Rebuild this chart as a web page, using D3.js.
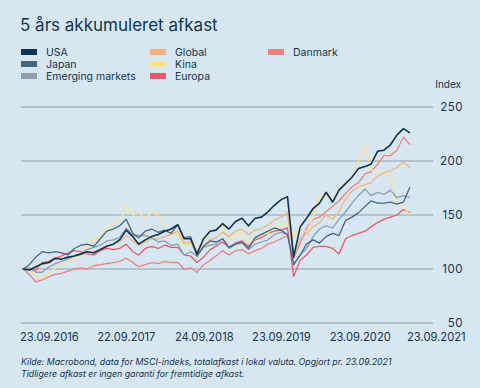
<!DOCTYPE html>
<meta charset="utf-8">
<style>
body { margin: 0; background: #d6e7f1; }
svg { display: block; font-family: Inter, "Open Sans", sans-serif; }
.grid line { stroke: #a7b7c3; stroke-width: 1.5px; }
.line { fill: none; stroke-width: 1.3px; stroke-linejoin: round; }
.lbl { fill: #15344f; }
</style>
<svg width="480" height="388"></svg>
<script src="https://d3js.org/d3.v7.min.js"></script>
<script>
var svg = d3.select("svg"),
    margin = {top: 107, right: 70, bottom: 65, left: 23},
    width = 410 - margin.left,
    height = 323 - margin.top,
    g = svg.append("g").attr("transform", "translate(" + margin.left + "," + margin.top + ")");

// monthly closes, 23.09.2016 .. 23.09.2021 (index 23.09.2016 = 100)
var names  = ["USA", "Japan", "Emerging markets", "Global", "Kina", "Europa", "Danmark"];
var colors = ["#0e3251", "#476781", "#8ba1b0", "#f7b27c", "#fde28a", "#e9596b", "#ef8181"];

var usa     = [100, 99, 102, 105, 106, 110, 109, 111, 112, 114, 116, 115, 118, 121, 123, 127, 136, 130, 123, 127, 130, 132, 135, 137, 141, 128, 128, 114, 128, 135, 136, 142, 137, 144, 147, 140, 147, 148, 153, 159, 164, 167, 111, 139, 147, 156, 161, 171, 162, 173, 179, 185, 193, 195, 197, 209, 210, 215, 224, 230, 226];
var japan   = [100, 104, 111, 116, 115, 116, 115, 113, 119, 122, 123, 121, 128, 135, 137, 140, 146, 133, 129, 135, 137, 134, 136, 133, 141, 129, 130, 112, 121, 126, 125, 128, 120, 123, 125, 119, 129, 132, 135, 138, 136, 132, 104, 113, 123, 127, 124, 130, 133, 131, 145, 148, 152, 158, 163, 161, 161, 162, 160, 162, 176];
var em      = [100, 101, 97, 97, 102, 105, 107, 109, 112, 114, 118, 120, 122, 126, 127, 129, 138, 131, 131, 131, 129, 125, 126, 122, 123, 113, 116, 112, 120, 122, 123, 128, 119, 123, 124, 118, 123, 125, 127, 132, 134, 132, 104, 113, 119, 130, 137, 140, 138, 146, 153, 161, 168, 174, 168, 171, 169, 173, 166, 168, 166];
var global  = [100, 100, 101, 104, 106, 109, 110, 110, 112, 113, 115, 115, 118, 121, 123, 125, 131, 126, 122, 125, 128, 128, 130, 132, 135, 124, 125, 113, 122, 127, 129, 134, 130, 135, 137, 132, 136, 137, 141, 145, 148, 152, 110, 128, 133, 139, 143, 150, 146, 153, 165, 172, 176, 178, 180, 186, 189, 191, 194, 199, 194];
var kina    = [100, 99, 94, 91, 96, 101, 103, 106, 110, 114, 120, 127, 130, 137, 142, 143, 159, 150, 152, 147, 152, 150, 140, 134, 132, 121, 124, 120, 126, 134, 137, 140, 126, 132, 132, 125, 128, 132, 133, 140, 139, 143, 130, 137, 134, 148, 168, 167, 164, 175, 180, 183, 200, 215, 192, 190, 188, 186, 160, 158, 150];
var europa  = [100, 100, 99, 106, 107, 110, 112, 115, 117, 116, 114, 113, 117, 119, 118, 119, 123, 116, 113, 119, 121, 119, 122, 120, 120, 113, 112, 106, 111, 118, 121, 125, 120, 124, 126, 121, 127, 129, 133, 135, 136, 138, 93, 108, 113, 120, 121, 121, 119, 114, 128, 131, 133, 135, 139, 143, 146, 148, 150, 155, 152];
var danmark = [100, 95, 88, 90, 93, 95, 96, 98, 100, 101, 100, 103, 104, 105, 106, 107, 110, 106, 102, 104, 106, 105, 107, 106, 106, 100, 101, 97, 104, 108, 112, 117, 113, 117, 118, 114, 117, 119, 123, 125, 128, 131, 110, 124, 138, 146, 148, 153, 158, 163, 170, 176, 180, 188, 190, 197, 205, 205, 210, 222, 215];

var tickDates  = ["2016-09-23", "2017-09-22", "2018-09-24", "2019-09-23", "2020-09-23", "2021-09-23"];
var tickLabels = ["23.09.2016", "22.09.2017", "24.09.2018", "23.09.2019", "23.09.2020", "23.09.2021"];
var yTicks = [50, 100, 150, 200, 250];

var parse = d3.timeParse("%Y-%m-%d");
var start = parse("2016-09-23");
var dates = d3.range(usa.length).map(function(i) { return d3.timeMonth.offset(start, i); });

var series = [usa, japan, em, global, kina, europa, danmark].map(function(vals, k) {
  return {name: names[k], color: colors[k], values: vals.map(function(v, i) { return {date: dates[i], value: v}; })};
});

var x = d3.scaleTime().domain([start, parse("2021-09-23")]).range([0, width]),
    y = d3.scaleLinear().domain([50, 250]).range([height, 0]);

// grid
g.append("g").attr("class", "grid")
  .selectAll("line").data(yTicks).enter().append("line")
    .attr("x1", -2).attr("x2", 410)
    .attr("y1", function(d) { return y(d); })
    .attr("y2", function(d) { return y(d); });

g.append("g").selectAll("text").data(yTicks).enter().append("text")
    .attr("class", "lbl")
    .attr("x", 440).attr("y", function(d) { return y(d); })
    .attr("dy", "0.36em").attr("text-anchor", "end")
    .style("font-size", "11.5px").style("letter-spacing", "0.5px")
    .text(function(d) { return d; });

svg.append("text").attr("class", "lbl")
    .attr("x", 461).attr("y", 88).attr("text-anchor", "end")
    .style("font-size", "10px").text("Index");

g.append("g").selectAll("text").data(tickDates).enter().append("text")
    .attr("class", "lbl")
    .attr("x", function(d) { return x(parse(d)) - 3; })
    .attr("y", height + 18)
    .style("font-size", "11.2px")
    .text(function(d, i) { return tickLabels[i]; });

var line = d3.line()
    .x(function(d) { return x(d.date); })
    .y(function(d) { return y(d.value); });

g.selectAll(".line").data(series.slice().reverse()).enter().append("path")
    .attr("class", "line")
    .style("stroke", function(d) { return d.color; })
    .style("stroke-width", function(d) { return d.name == "USA" ? 1.6 : 1.3; })
    .attr("d", function(d) { return line(d.values); });

// title + legend
svg.append("text").attr("class", "lbl")
    .attr("x", 20).attr("y", 31)
    .style("font-size", "17px")
    .text("5 års akkumuleret afkast");

var legX = [21, 150, 268];
var leg = svg.append("g").selectAll("g").data(series).enter().append("g")
    .attr("transform", function(d, i) {
      return "translate(" + legX[Math.floor(i / 3)] + "," + (52 + (i % 3) * 12) + ")";
    });
leg.append("rect").attr("y", -3).attr("width", 16).attr("height", 6)
    .style("fill", function(d) { return d.color; });
leg.append("text").attr("class", "lbl").attr("x", 25).attr("dy", "0.36em")
    .style("font-size", "10.5px")
    .text(function(d) { return d.name; });

// source
var src = svg.append("g").style("font-size", "8.8px").style("font-style", "italic");
src.append("text").attr("class", "lbl").attr("x", 21).attr("y", 365)
    .text("Kilde: Macrobond, data for MSCI-indeks, totalafkast i lokal valuta. Opgjort pr. 23.09.2021");
src.append("text").attr("class", "lbl").attr("x", 21).attr("y", 377)
    .text("Tidligere afkast er ingen garanti for fremtidige afkast.");
</script>
